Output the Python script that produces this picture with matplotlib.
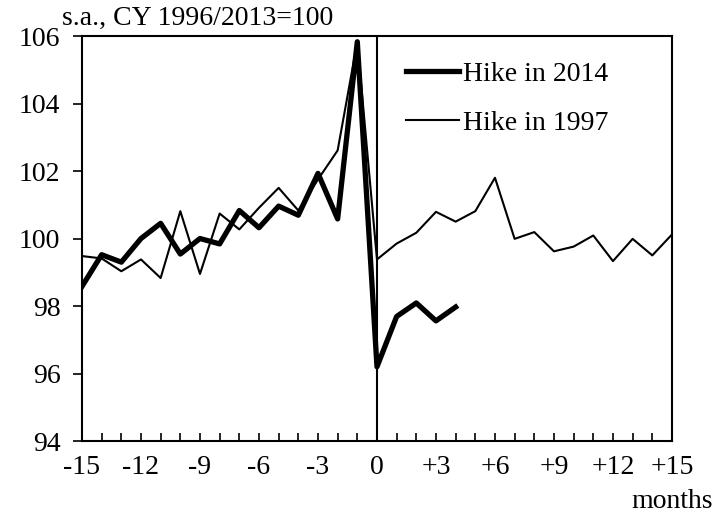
import matplotlib.pyplot as plt
from matplotlib.ticker import MultipleLocator

plt.rcParams['font.family'] = ['Liberation Serif', 'DejaVu Serif']

months = list(range(-15, 16))
hike_2014_x = list(range(-15, 5))
hike_2014 = [98.58, 99.52, 99.30, 100.00, 100.45, 99.54, 100.00, 99.84, 100.83, 100.32,
             100.96, 100.69, 101.93, 100.58, 105.83, 96.20, 97.69, 98.09, 97.56, 97.97]
hike_1997 = [99.48, 99.41, 99.03, 99.38, 98.83, 100.81, 98.95, 100.74, 100.27, 100.91,
             101.50, 100.83, 101.75, 102.61, 105.83, 99.38, 99.85, 100.17, 100.79, 100.50,
             100.81, 101.80, 99.99, 100.19, 99.62, 99.76, 100.09, 99.33, 99.99, 99.50, 100.12]
xtick_pos = [-15, -12, -9, -6, -3, 0, 3, 6, 9, 12, 15]
xtick_labels = ['-15', '-12', '-9', '-6', '-3', '0', '+3', '+6', '+9', '+12', '+15']

fs = 20

fig = plt.figure(figsize=(7.16, 5.18), dpi=100)
ax = fig.add_axes([0.1145, 0.1486, 0.824, 0.7819])

ax.plot(hike_2014_x, hike_2014, color='black', lw=3.8, label='Hike in 2014', zorder=3)
ax.plot(months, hike_1997, color='black', lw=1.5, label='Hike in 1997', zorder=2)
ax.axvline(0, color='black', lw=1.5)

ax.set_xlim(-15, 15)
ax.set_ylim(94, 106)
ax.set_xticks(xtick_pos)
ax.set_xticklabels(xtick_labels)
ax.xaxis.set_minor_locator(MultipleLocator(1))
ax.yaxis.set_major_locator(MultipleLocator(2))

ax.tick_params(axis='x', which='both', direction='in', length=6, width=1.2, pad=10, labelsize=fs)
ax.tick_params(axis='y', direction='out', length=6.5, width=1.2, pad=9, labelsize=fs)
for s in ax.spines.values():
    s.set_linewidth(1.5)

leg = ax.legend(loc='upper left', bbox_to_anchor=(0.53, 0.965), frameon=False, fontsize=fs,
                handlelength=1.9, handletextpad=0.15, labelspacing=0.86, borderaxespad=0)

fig.text(0.087, 0.988, 's.a., CY 1996/2013=100', fontsize=fs, ha='left', va='top')
fig.text(0.996, 0.008, 'months', fontsize=fs, ha='right', va='bottom')

fig.savefig('out.png', dpi=100)
